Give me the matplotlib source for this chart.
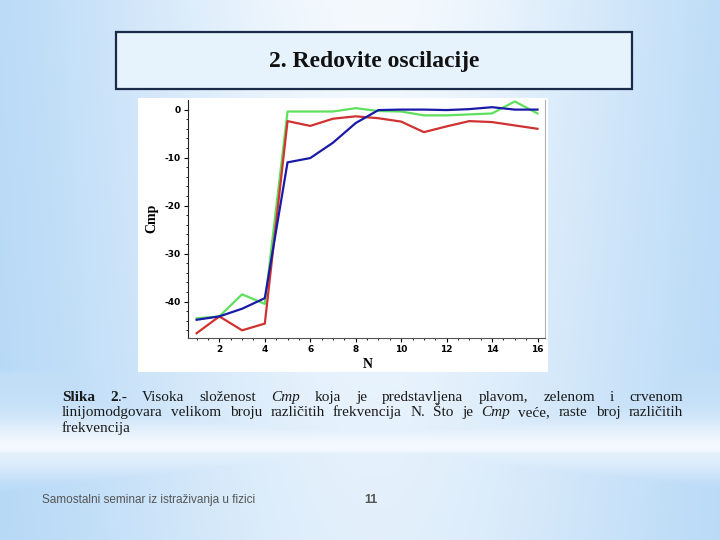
import numpy as np
import matplotlib.pyplot as plt
from matplotlib.patches import Rectangle

plt.rcParams["axes.unicode_minus"] = False

# values
n_vals = [1, 2, 3, 4, 5, 6, 7, 8, 9, 10, 11, 12, 13, 14, 15, 16]
cmp_green = [-43.5, -43.1, -38.5, -40.5, -0.4, -0.4, -0.4, 0.3, -0.3, -0.4, -1.2, -1.2, -1.0, -0.8, 1.7, -0.8]
cmp_red = [-46.6, -43.1, -46.0, -44.6, -2.4, -3.4, -1.9, -1.4, -1.8, -2.5, -4.7, -3.5, -2.4, -2.6, -3.3, -4.0]
cmp_blue = [-43.8, -43.1, -41.5, -39.3, -11.0, -10.1, -6.9, -2.8, -0.1, 0.0, 0.0, -0.1, 0.1, 0.5, 0.0, 0.0]

title = "2. Redovite oscilacije"
footer = "Samostalni seminar iz istraživanja u fizici"
page_no = "11"

# caption words, each word is a list of (text, style) pieces
caption_l1 = [[("Slika", "b")], [("2", "b"), (".-", "n")], [("Visoka", "n")], [("složenost", "n")],
              [("Cmp", "i")], [("koja", "n")], [("je", "n")], [("predstavljena", "n")],
              [("plavom,", "n")], [("zelenom", "n")], [("i", "n")], [("crvenom", "n")]]
caption_l2 = [[(w, "n")] for w in "linijomodgovara velikom broju različitih frekvencija N. Što je".split()] + \
             [[("Cmp", "i")]] + [[(w, "n")] for w in "veće, raste broj različitih".split()]
caption_l3 = [[("frekvencija", "n")]]

W, H = 720, 540
fig = plt.figure(figsize=(W / 100, H / 100), dpi=100)

# slide background gradient
bg = fig.add_axes([0, 0, 1, 1], zorder=-5)
bg.set_axis_off()
xx, yy = np.meshgrid(np.linspace(0, 1, 180), np.linspace(0, 1, 135))
wx = np.exp(-((xx - 0.52) / 0.42) ** 2) * (1 - 0.25 * yy)
band = 0.75 * np.exp(-((yy - 0.84) / 0.06) ** 2) * (yy > 0.69) + 0.3 * (yy > 0.69) * (yy < 0.84)
w = np.clip(np.maximum(wx, band), 0, 1)
blue = np.array([172, 211, 245]) / 255
white = np.array([244, 249, 254]) / 255
img = blue + (white - blue) * w[..., None]
bg.imshow(img, extent=[0, 1, 0, 1], aspect="auto", interpolation="bilinear", origin="upper")
bg.set_xlim(0, 1)
bg.set_ylim(0, 1)

# title box
fig.patches.append(Rectangle((116 / W, 1 - 89 / H), 516 / W, 57 / H, transform=fig.transFigure,
                             facecolor="#e6f2fc", edgecolor="#1c2a4a", lw=1.6, zorder=-2))
fig.text(374 / W, 1 - 61 / H, title, family="Liberation Serif", fontsize=17, fontweight="bold",
         color="#111111", ha="center", va="center")

# white panel behind chart
fig.patches.append(Rectangle((138 / W, 1 - 372 / H), 410 / W, 274 / H, transform=fig.transFigure,
                             facecolor="white", edgecolor="none", zorder=-2))

ax = fig.add_axes([188 / W, 1 - 338 / H, 357 / W, 238 / H])
ax.set_facecolor("white")
ax.plot(n_vals, cmp_green, color="#5ee05e", lw=1.6)
ax.plot(n_vals, cmp_red, color="#d03232", lw=1.6)
ax.plot(n_vals, cmp_blue, color="#1a1aa8", lw=1.6)
ax.set_xlim(0.62, 16.33)
ax.set_ylim(-47.6, 2.0)
ax.set_xticks(range(2, 17, 2))
ax.set_xticks(np.arange(1, 16.5, 0.5), minor=True)
ax.set_yticks([0, -10, -20, -30, -40])
ax.set_yticks(range(-46, 1, 2), minor=True)
ax.tick_params(labelsize=6.5, length=3, width=0.8, pad=2)
ax.tick_params(which="minor", length=1.5, width=0.6)
for lab in ax.get_xticklabels() + ax.get_yticklabels():
    lab.set_fontweight("bold")
ax.spines["top"].set_visible(False)
ax.spines["right"].set_color("#b0b0b0")
ax.spines["left"].set_color("#222222")
ax.spines["bottom"].set_color("#555555")
fig.text(152 / W, 1 - 218 / H, "Cmp", family="Liberation Serif", fontweight="bold", fontsize=10,
         rotation=90, ha="center", va="center")
fig.text(368 / W, 1 - 364 / H, "N", family="Liberation Serif", fontweight="bold", fontsize=10,
         ha="center", va="center")

# justified caption
renderer = fig.canvas.get_renderer()
cap_font = dict(family="Liberation Serif", fontsize=11, color="#1a1a1a")


def piece_props(style):
    p = dict(cap_font)
    if style == "b":
        p["fontweight"] = "bold"
    if style == "i":
        p["fontstyle"] = "italic"
    return p


def draw_line(words, y_px, justify):
    x0, x1 = 62, 683
    widths = []
    for word in words:
        wsum = 0
        for txt, st in word:
            t = fig.text(0, 0, txt, **piece_props(st))
            wsum += t.get_window_extent(renderer).width
            t.remove()
        widths.append(wsum)
    if justify and len(words) > 1:
        gap = (x1 - x0 - sum(widths)) / (len(words) - 1)
    else:
        gap = 4
    x = x0
    for word, wd in zip(words, widths):
        xp = x
        for txt, st in word:
            t = fig.text(xp / W, 1 - y_px / H, txt, va="baseline", ha="left", **piece_props(st))
            xp += t.get_window_extent(renderer).width
        x += wd + gap


draw_line(caption_l1, 401, True)
draw_line(caption_l2, 416, True)
draw_line(caption_l3, 432, False)

fig.text(42 / W, 1 - 500 / H, footer, family="Liberation Sans", fontsize=8.5, color="#555555",
         ha="left", va="center")
fig.text(371 / W, 1 - 500 / H, page_no, family="Liberation Sans", fontsize=9, fontweight="bold",
         color="#555555", ha="center", va="center")

fig.savefig("out.png", dpi=100)
